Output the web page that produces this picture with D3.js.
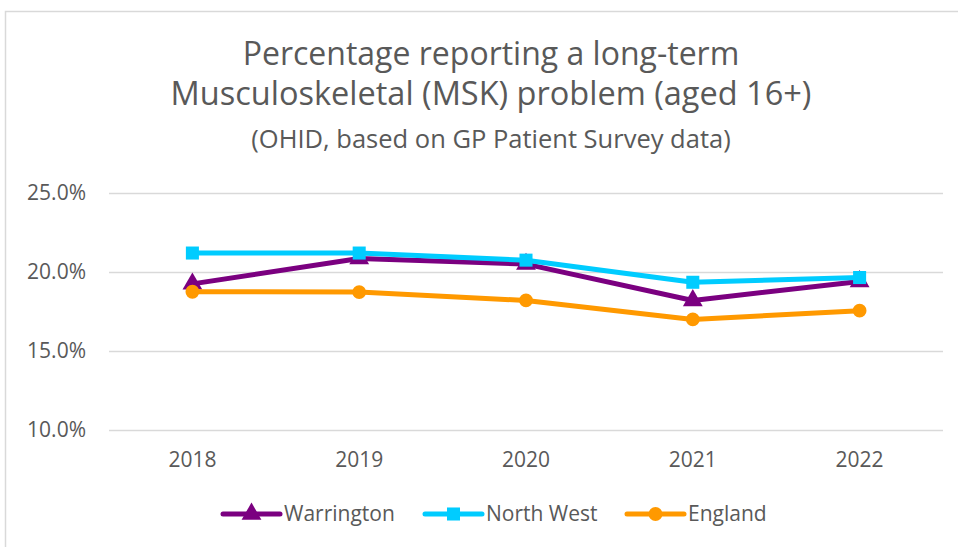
<!DOCTYPE html>
<html>
<head>
<meta charset="utf-8">
<script src="https://cdn.jsdelivr.net/npm/d3@7"></script>
<style>
  body { margin: 0; background: #fff; }
  #svg-container { width: 958px; height: 547px; }
  text { font-family: "Open Sans", Lato, sans-serif; fill: #595959; }
</style>
</head>
<body>
<div id="svg-container"></div>
<script>
// data
const years = ["2018", "2019", "2020", "2021", "2022"];
const warrington = [19.25, 20.85, 20.5, 18.2, 19.4];
const northWest = [21.2, 21.2, 20.75, 19.35, 19.65];
const england = [18.75, 18.73, 18.2, 17.0, 17.55];
const yTicks = [10, 15, 20, 25];

const seriesNames = ["Warrington", "North West", "England"];
const seriesColors = ["#7B0080", "#00CCFF", "#FF9900"];
const seriesShapes = [d3.symbolTriangle, d3.symbolSquare, d3.symbolCircle];
const seriesValues = [warrington, northWest, england];

////////////////////////////  Init  ///////////////////////////////
const width = 958;
const height = 547;
const margin = { top: 193, right: 15, bottom: 117, left: 109 };

const svg = d3
  .select("#svg-container")
  .append("svg")
  .attr("width", width)
  .attr("height", height);

// 차트 외곽선
svg
  .append("rect")
  .attr("x", 5.5)
  .attr("y", 11.5)
  .attr("width", width + 10)
  .attr("height", height + 10)
  .attr("fill", "none")
  .attr("stroke", "#d9d9d9")
  .attr("stroke-width", 1.5);

// scale
const xScale = d3
  .scaleBand()
  .domain(years)
  .range([margin.left, width - margin.right]);

const yScale = d3
  .scaleLinear()
  .domain([10, 25])
  .range([height - margin.bottom, margin.top]);

// title
const title = svg.append("g").attr("text-anchor", "middle");
title
  .append("text")
  .attr("x", 491)
  .attr("y", 65)
  .attr("font-size", 32)
  .text("Percentage reporting a long-term");
title
  .append("text")
  .attr("x", 491)
  .attr("y", 105)
  .attr("font-size", 32.5)
  .text("Musculoskeletal (MSK) problem (aged 16+)");
title
  .append("text")
  .attr("x", 491)
  .attr("y", 148)
  .attr("font-size", 25.5)
  .text("(OHID, based on GP Patient Survey data)");

// y axis + gridlines
const yAxis = d3
  .axisLeft(yScale)
  .tickValues(yTicks)
  .tickFormat((d) => d.toFixed(1) + "%")
  .tickSize(-(width - margin.left - margin.right))
  .tickPadding(23);

svg
  .append("g")
  .attr("class", "y-axis")
  .attr("transform", `translate(${margin.left},0)`)
  .call(yAxis)
  .call((g) => g.select(".domain").remove())
  .call((g) => g.selectAll("line").attr("stroke", "#d9d9d9").attr("stroke-width", 1.5))
  .call((g) => g.selectAll("text").attr("font-size", 21).style("fill", "#595959"));

// x axis (labels only)
const xAxis = d3.axisBottom(xScale).tickSize(0).tickPadding(22);

svg
  .append("g")
  .attr("class", "x-axis")
  .attr("transform", `translate(0, ${height - margin.bottom})`)
  .call(xAxis)
  .call((g) => g.select(".domain").remove())
  .call((g) => g.selectAll("text").attr("font-size", 21).style("fill", "#595959"));

// lines
const line = d3
  .line()
  .x((d, i) => xScale(years[i]) + xScale.bandwidth() / 2)
  .y((d) => yScale(d));

seriesValues.forEach((vals, k) => {
  svg
    .append("path")
    .datum(vals)
    .attr("d", line)
    .attr("fill", "none")
    .attr("stroke", seriesColors[k])
    .attr("stroke-width", 5)
    .attr("stroke-linejoin", "round")
    .attr("stroke-linecap", "round");

  svg
    .selectAll(null)
    .data(vals)
    .join("path")
    .attr("transform", (d, i) => `translate(${xScale(years[i]) + xScale.bandwidth() / 2},${yScale(d)})`)
    .attr("d", d3.symbol(seriesShapes[k], k === 2 ? 150 : 170))
    .attr("fill", seriesColors[k]);
});

// legend
const legendX = [223, 425, 627];
const legendY = 514;
const legend = svg
  .selectAll(".legend")
  .data(seriesNames)
  .join("g")
  .attr("class", "legend")
  .attr("transform", (d, i) => `translate(${legendX[i]},${legendY})`);

legend
  .append("line")
  .attr("x1", 0)
  .attr("x2", 57)
  .attr("stroke", (d, i) => seriesColors[i])
  .attr("stroke-width", 5)
  .attr("stroke-linecap", "round");

legend
  .append("path")
  .attr("transform", "translate(28.5,0)")
  .attr("d", (d, i) => d3.symbol(seriesShapes[i], i === 2 ? 150 : 170)())
  .attr("fill", (d, i) => seriesColors[i]);

legend
  .append("text")
  .attr("x", 61)
  .attr("dy", "0.35em")
  .attr("font-size", 21)
  .text((d) => d);
</script>
</body>
</html>
